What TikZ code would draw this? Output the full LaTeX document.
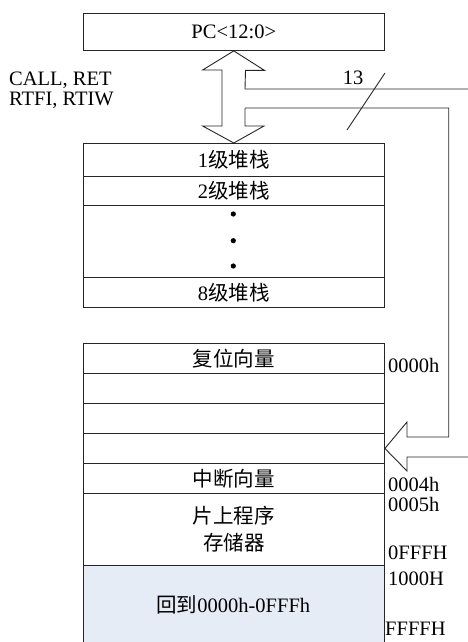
\documentclass[tikz,border=0pt]{standalone}
\usepackage{fontspec}
\setmainfont{Liberation Serif}
\newfontfamily\cjk{Noto Sans CJK SC}
\begin{document}
\begin{tikzpicture}[x=1pt,y=-1pt,
  ln/.style={draw=black!85,line width=0.9pt},
  row/.style={ln,rectangle,minimum width=301.3pt,inner sep=0pt,anchor=north west,font=\fontsize{20.5}{24}\selectfont},
  lbl/.style={inner sep=0pt,font=\fontsize{20.5}{24}\selectfont},
  addr/.style={lbl,anchor=west}]
\useasboundingbox (0,0) rectangle (468,642);
\clip (0,0) rectangle (468,642);
% PC box
\node[row,minimum height=37.3pt] (pc) at (82.7,12.7) {PC<12:0>};
% stack
\node[row,minimum height=32.7pt] (s1) at (82.7,143) {1{\cjk 级堆栈}};
\node[row,minimum height=29.3pt] (s2) at (82.7,175.7) {2{\cjk 级堆栈}};
\node[row,minimum height=72pt] (sd) at (82.7,205) {};
\node[row,minimum height=30pt] (s8) at (82.7,277) {8{\cjk 级堆栈}};
\foreach \yy [count=\i] in {214,240.7,266}
  \fill[black] (233.3,\yy) circle (2.6pt);
% memory
\node[row,minimum height=30.3pt] (m1) at (82.7,342.7) {\cjk 复位向量};
\node[row,minimum height=30pt] (m2) at (82.7,373) {};
\node[row,minimum height=30pt] (m3) at (82.7,403) {};
\node[row,minimum height=30pt] (m4) at (82.7,433) {};
\node[row,minimum height=30pt] (m5) at (82.7,463) {\cjk 中断向量};
\node[row,minimum height=72pt,align=center] (m6) at (82.7,493) {\cjk 片上程序\\[3pt]\cjk 存储器};
\node[row,minimum height=90pt,fill={rgb,255:red,230;green,236;blue,246}] (m7) at (82.7,565) {};
\node[lbl] at (233.3,605) {{\cjk 回到}0000h-0FFFh};
% double arrow between PC and stack
\coordinate (tt) at (pc.south);
\coordinate (bt) at (s1.north);
\draw[ln,line join=miter]
  (tt) -- ++(30.7,19.5) -- ++(-19,0) -- (245,89) -- (468,89);
\draw[ln,line join=miter]
  (245,108) -- (245,126) -- (264,126) -- (bt) -- (202.6,126) -- (222,126)
  -- (222,70) -- (202.6,70) -- (tt);
% bus to memory
\coordinate (mt) at (m4.east);
\draw[ln,line join=miter]
  (245,108) -- (448.7,108) -- (448.7,437) -- (407,437) -- (407,422)
  -- (mt) -- (407,471) -- (407,457) -- (468,457);
% bus width mark
\draw[ln] (347,130) -- (385,73);
\node[lbl] (w) at (353,78) {13};
% left labels
\node[lbl,anchor=west] (c1) at (9,80) {CALL, RET};
\node[lbl,anchor=west] (c2) at (9,100) {RTFI, RTIW};
% addresses
\node[addr] (a0) at (388,365) {0000h};
\node[addr] (a4) at (388,484) {0004h};
\node[addr] (a5) at (388,504) {0005h};
\node[addr] (af) at (388,553) {0FFFH};
\node[addr] (a1) at (388,579) {1000H};
\node[addr] (aF) at (385,629) {FFFFH};
\end{tikzpicture}
\end{document}
